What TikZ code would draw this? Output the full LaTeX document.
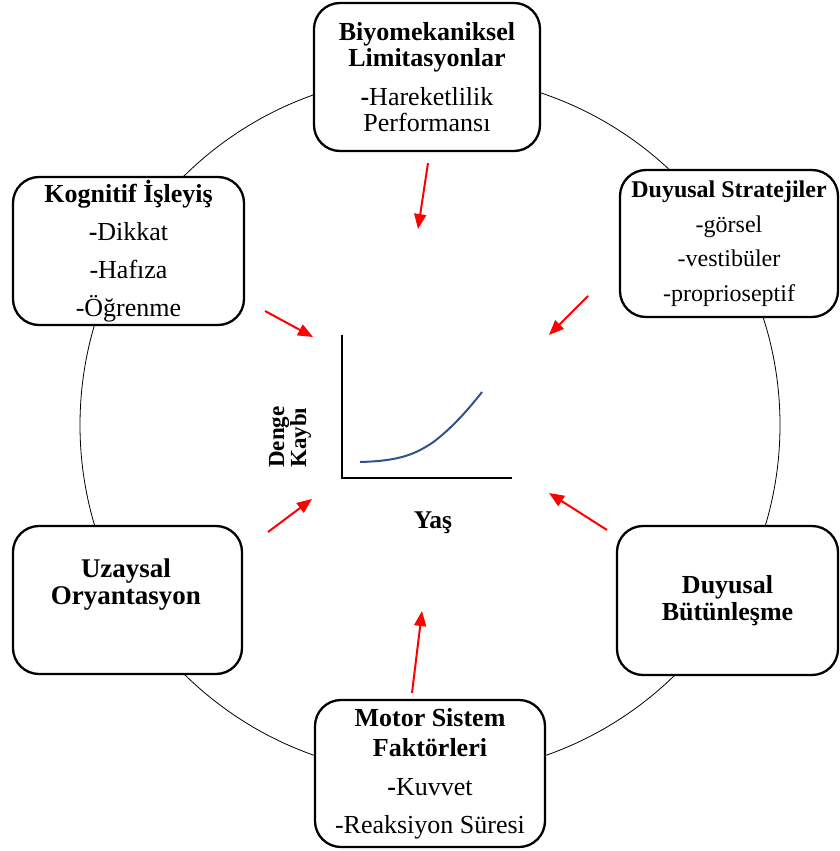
\documentclass[tikz,border=0pt]{standalone}
\usepackage{fontspec}
\setmainfont{Liberation Serif}
\usetikzlibrary{arrows.meta}
\definecolor{curveblue}{RGB}{47,82,143}
\begin{document}
\begin{tikzpicture}[x=1pt,y=-1pt,
  box/.style={draw, line width=2.3pt, rounded corners=26pt, fill=white, align=center, inner sep=0pt},
  redarrow/.style={draw=red, line width=2pt, -{Triangle[length=15pt,width=12pt]}},
  axis/.style={line width=2pt, line cap=rect},
  lbl/.style={inner sep=0pt, font=\bfseries\fontsize{23}{23}\selectfont}]
\useasboundingbox (0,0) rectangle (840,851);
\node[circle, draw, line width=0.8pt, minimum size=700pt, inner sep=0pt] (ring) at (430,425) {};
% boxes
\node[box, minimum width=226pt, minimum height=148pt, font=\fontsize{26}{26}\selectfont] (bio) at (427,77)
  {\textbf{Biyomekaniksel}\\\textbf{Limitasyonlar}\\[13pt]\textbf{-}Hareketlilik\\Performansı};
\node[box, minimum width=231pt, minimum height=148pt, font=\fontsize{26}{38}\selectfont] (kog) at (128.5,251)
  {\textbf{Kognitif İşleyiş}\\\textbf{-}Dikkat\\-Hafıza\\-Öğrenme};
\node[box, minimum width=218pt, minimum height=147pt, font=\fontsize{24}{34.5}\selectfont] (dstr) at (729,243.5)
  {\textbf{Duyusal Stratejiler}\\-görsel\\-vestibüler\\-proprioseptif};
\node[box, minimum width=229pt, minimum height=148pt] (uzay) at (127.5,600) {};
\node[inner sep=0pt, align=center, font=\bfseries\fontsize{27}{27}\selectfont] (uzayt) at (126,585) {Uzaysal\\Oryantasyon};
\node[box, minimum width=221pt, minimum height=149pt, font=\bfseries\fontsize{26}{27}\selectfont] (dbut) at (727.5,600.5)
  {Duyusal\\Bütünleşme};
\node[box, minimum width=230pt, minimum height=147pt, font=\fontsize{26}{30}\selectfont] (motor) at (430,773.5)
  {\textbf{Motor Sistem}\\\textbf{Faktörleri}\\[9pt]\textbf{-}Kuvvet\\[8pt]-Reaksiyon Süresi};
% graph
\coordinate (ytop) at (342,336);
\coordinate (orig) at (342,478);
\coordinate (xend) at (511,478);
\draw[axis] (ytop) -- (orig) -- (xend);
\coordinate (c0) at (360,462);
\coordinate (c1) at (432,443);
\coordinate (c2) at (482,392);
\draw[curveblue, line width=2pt] (c0) .. controls (400,461) and (415,454) .. (c1) .. controls (450,430) and (468,410) .. (c2);
\node[lbl, rotate=90, anchor=base west] (denge) at (284,468) {Denge};
\node[lbl, rotate=90, anchor=base west] (kaybi) at (306,468) {Kaybı};
\node[inner sep=0pt, anchor=base, font=\bfseries\fontsize{25.5}{25.5}\selectfont] (yas) at (433,528) {Yaş};
% arrows
\coordinate (a1s) at (428,163); \coordinate (a1e) at (418,229);
\coordinate (a2s) at (265,311); \coordinate (a2e) at (313,337);
\coordinate (a3s) at (588,296); \coordinate (a3e) at (549,335);
\coordinate (a4s) at (268,532); \coordinate (a4e) at (312,499);
\coordinate (a5s) at (607,530); \coordinate (a5e) at (549,493);
\coordinate (a6s) at (412,693); \coordinate (a6e) at (422,611);
\foreach \i in {1,...,6} \draw[redarrow] (a\i s) -- (a\i e);
\end{tikzpicture}
\end{document}
